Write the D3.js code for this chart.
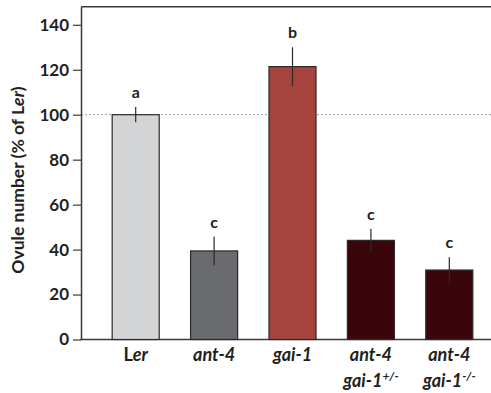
<!DOCTYPE html>
<html><head><meta charset="utf-8">
<script src="https://cdn.jsdelivr.net/npm/d3@7"></script>
<style>body{margin:0;background:#fff}svg{display:block}text{font-family:Lato,"Open Sans",sans-serif;font-weight:bold;fill:#231f20}</style>
</head><body><svg id="c" width="491" height="393"></svg>
<script>
const categories = ["Ler","ant-4","gai-1","ant-4 gai-1+/-","ant-4 gai-1-/-"];
const values = [100, 39.4, 121.4, 44.1, 30.9];
const errors = [3.4, 6.4, 8.6, 5.2, 5.7];
const letters = ["a","c","b","c","c"];
const colors = ["#d3d4d6","#6a6b6f","#a5433f","#3a050b","#3a050b"];
const yTicks = [0,20,40,60,80,100,120,140];

const svg = d3.select("#c");
const x = d3.scaleBand().domain(categories).range([96.5, 488.5]).paddingInner(0.4).paddingOuter(0.2);
const y = d3.scaleLinear().domain([0, 148]).range([339.5, 6.8]);
const left = 81;

svg.append("line").attr("x1", left).attr("x2", 491).attr("y1", y(148)).attr("y2", y(148))
  .attr("stroke", "#3a3a3a").attr("stroke-width", 1.5);

svg.append("line").attr("x1", left).attr("x2", 491).attr("y1", y(100)).attr("y2", y(100))
  .attr("stroke", "#9a9a9a").attr("stroke-width", 1).attr("stroke-dasharray", "2,2");

const yAxis = svg.append("g").attr("transform", `translate(${left},0)`)
  .call(d3.axisLeft(y).tickValues(yTicks).tickSize(8).tickPadding(4).tickSizeOuter(0));
yAxis.select(".domain").attr("stroke", "#3a3a3a").attr("stroke-width", 1.5);
yAxis.selectAll(".tick line").attr("stroke", "#3a3a3a").attr("stroke-width", 1.2);
yAxis.selectAll(".tick text").style("font-size", "17px").attr("fill", "#231f20")
  .style("font-family", "Lato,sans-serif").style("font-weight", "bold");

svg.append("line").attr("x1", left - 0.75).attr("x2", 491).attr("y1", y(0)).attr("y2", y(0))
  .attr("stroke", "#3a3a3a").attr("stroke-width", 1.5);

svg.selectAll("rect.bar").data(categories).enter().append("rect")
  .attr("x", d => x(d)).attr("width", x.bandwidth())
  .attr("y", (d, i) => y(values[i])).attr("height", (d, i) => y(0) - y(values[i]))
  .attr("fill", (d, i) => colors[i]).attr("stroke", "#2a2a2a").attr("stroke-width", 1.2);

svg.selectAll("line.err").data(categories).enter().append("line")
  .attr("x1", d => x(d) + x.bandwidth() / 2).attr("x2", d => x(d) + x.bandwidth() / 2)
  .attr("y1", (d, i) => y(values[i] + errors[i])).attr("y2", (d, i) => y(values[i] - errors[i]))
  .attr("stroke", "#2a2a2a").attr("stroke-width", 1.2);

svg.selectAll("text.let").data(categories).enter().append("text")
  .attr("x", d => x(d) + x.bandwidth() / 2).attr("y", (d, i) => y(values[i] + errors[i]) - 9)
  .attr("text-anchor", "middle").style("font-size", "16px").text((d, i) => letters[i]);

const lab = svg.selectAll("g.xl").data(categories).enter().append("g")
  .attr("transform", d => `translate(${x(d) + x.bandwidth() / 2},0)`);
lab.each(function(d) {
  const g = d3.select(this);
  if (d === "Ler") {
    const t = g.append("text").attr("y", 361).attr("text-anchor", "middle").style("font-size", "18px");
    t.append("tspan").text("L");
    t.append("tspan").style("font-style", "italic").text("er");
  } else if (d.indexOf(" ") < 0) {
    g.append("text").attr("y", 361).attr("text-anchor", "middle").style("font-size", "18px")
      .style("font-style", "italic").text(d);
  } else {
    const parts = d.split(" ");
    g.append("text").attr("y", 361).attr("text-anchor", "middle").style("font-size", "18px")
      .style("font-style", "italic").text(parts[0]);
    const base = parts[1].slice(0, 5), sup = parts[1].slice(5);
    const t = g.append("text").attr("y", 387).attr("text-anchor", "middle").style("font-size", "18px")
      .style("font-style", "italic");
    t.append("tspan").text(base);
    t.append("tspan").attr("dy", -7).style("font-size", "12px").text(sup);
  }
});

const yl = svg.append("text").attr("transform", "translate(24,180) rotate(-90)")
  .attr("text-anchor", "middle").style("font-size", "17.5px");
yl.append("tspan").text("Ovule number (% of L");
yl.append("tspan").style("font-style", "italic").text("er");
yl.append("tspan").text(")");
</script></body></html>
